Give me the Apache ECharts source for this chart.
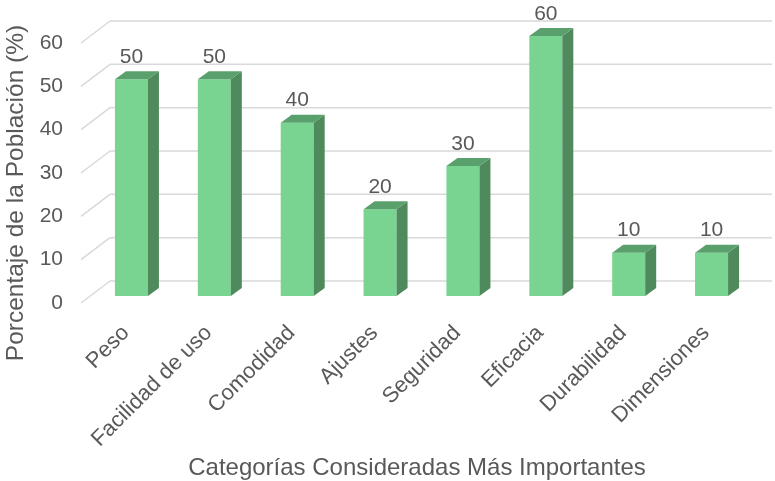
<!DOCTYPE html>
<html>
<head>
<meta charset="utf-8">
<script src="https://cdn.jsdelivr.net/npm/echarts@6/dist/echarts.min.js"></script>
<style>
  html, body { margin: 0; padding: 0; background: #ffffff; }
  #chart { width: 775px; height: 481px; }
</style>
</head>
<body>
<div id="chart"></div>
<script>
// Categories and percentages
const categories = ['Peso', 'Facilidad de uso', 'Comodidad', 'Ajustes', 'Seguridad', 'Eficacia', 'Durabilidad', 'Dimensiones'];
const values = [50, 50, 40, 20, 30, 60, 10, 10];
const yTicks = [0, 10, 20, 30, 40, 50, 60];

const FONT = '"Liberation Sans", Arial, sans-serif';
const TEXT = '#595959';
const GRID_LINE = '#d9d9d9';
const FRONT = '#78d490';
const SIDE = '#4e8a5c';
const TOP = '#5aa06c';

// 3D look: depth offsets of the wall and bar bodies
const DEPTH_X = 11, DEPTH_Y = 8;
const BAR_HALF = 16.5;

const chart = echarts.init(document.getElementById('chart'), null, { renderer: 'canvas' });

function renderWall(params, api) {
  const cs = params.coordSys;
  const y = api.coord([0, api.value(1)])[1];
  const wallLeft = cs.x + 20, wallRight = cs.x + cs.width + 19;
  const yw = y - 15;
  return {
    type: 'group',
    children: [
      { type: 'line', shape: { x1: wallLeft, y1: yw, x2: wallRight, y2: yw },
        style: { stroke: GRID_LINE, lineWidth: 1.5 } },
      { type: 'line', shape: { x1: cs.x - 9, y1: y + 7, x2: wallLeft, y2: yw },
        style: { stroke: GRID_LINE, lineWidth: 1.5 } }
    ]
  };
}

function renderBar(params, api) {
  const top = api.coord([api.value(0), api.value(1)]);
  const base = api.coord([api.value(0), 0]);
  const xl = top[0] - BAR_HALF, xr = top[0] + BAR_HALF;
  const yt = top[1], yb = base[1];
  return {
    type: 'group',
    children: [
      { type: 'rect', shape: { x: xl, y: yt, width: xr - xl, height: yb - yt },
        style: { fill: FRONT } },
      { type: 'polygon', shape: { points: [[xr, yt], [xr + DEPTH_X, yt - DEPTH_Y], [xr + DEPTH_X, yb - DEPTH_Y], [xr, yb]] },
        style: { fill: SIDE } },
      { type: 'polygon', shape: { points: [[xl, yt], [xl + DEPTH_X, yt - DEPTH_Y], [xr + DEPTH_X, yt - DEPTH_Y], [xr, yt]] },
        style: { fill: TOP } },
      { type: 'text', x: top[0], y: yt - 22,
        style: { text: String(api.value(1)), font: '21px ' + FONT, fill: TEXT, align: 'center', verticalAlign: 'middle' } }
    ]
  };
}

const option = {
  backgroundColor: '#ffffff',
  animation: false,
  grid: { left: 90, right: 22, top: 36, bottom: 185 },
  xAxis: {
    type: 'category',
    data: categories,
    axisLine: { show: false },
    axisTick: { show: false },
    splitLine: { show: false },
    axisLabel: { rotate: 45, interval: 0, margin: 28, padding: [0, 8, 0, 0], fontSize: 22, fontFamily: FONT, color: TEXT }
  },
  yAxis: {
    type: 'value',
    min: 0, max: 60, interval: 10,
    axisLine: { show: false },
    axisTick: { show: false },
    splitLine: { show: false },
    axisLabel: { margin: 27, verticalAlign: 'top', lineHeight: 14, fontSize: 21, fontFamily: FONT, color: TEXT }
  },
  graphic: [
    { type: 'text', x: 16, y: 193, rotation: Math.PI / 2,
      style: { text: 'Porcentaje de la Población (%)', font: '24.5px ' + FONT, fill: TEXT, align: 'center', verticalAlign: 'middle' } },
    { type: 'text', x: 417, y: 468,
      style: { text: 'Categorías Consideradas Más Importantes', font: '24px ' + FONT, fill: TEXT, align: 'center', verticalAlign: 'middle' } }
  ],
  series: [
    { type: 'custom', z: 1, renderItem: renderWall, data: yTicks.map(v => [0, v]), silent: true },
    { type: 'custom', z: 2, renderItem: renderBar, data: values.map((v, i) => [i, v]), silent: true }
  ]
};
chart.setOption(option);
</script>
</body>
</html>
